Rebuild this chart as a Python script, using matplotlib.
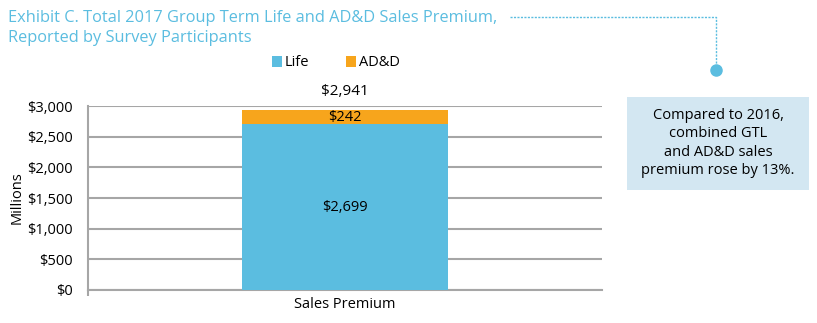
import matplotlib
matplotlib.use("Agg")
import matplotlib.pyplot as plt
from matplotlib.patches import Rectangle

plt.rcParams['font.family'] = ['Open Sans', 'DejaVu Sans']

# data
categories = ["Sales Premium"]
life = [2699]
add = [242]
total = [2941]
yticks = [0, 500, 1000, 1500, 2000, 2500, 3000]

blue = "#5BBDE0"
orange = "#F7A51C"
grid = "#A6A6A6"

fig = plt.figure(figsize=(8.17, 3.23), dpi=100)
ax = fig.add_axes([88 / 817, 1 - 290 / 323, (602 - 88) / 817, (290 - 106) / 323])

x = range(len(categories))
ax.bar(x, life, width=0.4, color=blue, label="Life", zorder=3)
ax.bar(x, add, bottom=life, width=0.4, color=orange, label="AD&D", zorder=3)

for i in x:
    ax.text(i, life[i] / 2, f"${life[i]:,}", ha="center", va="center", fontsize=10.5)
    ax.text(i, life[i] + add[i] / 2, f"${add[i]:,}", ha="center", va="center", fontsize=10.5)
    ax.text(i, total[i] + 300, f"${total[i]:,}", ha="center", va="center", fontsize=11)

ax.set_xlim(-0.5, 0.5)
ax.set_ylim(0, 3000)
ax.set_yticks(yticks)
ax.set_yticklabels([f"${v:,}" for v in yticks], fontsize=10.5)
ax.set_xticks(list(x))
ax.set_xticklabels(categories, fontsize=10.5)
ax.set_xticks([-0.5], minor=True)
ax.tick_params(axis="x", which="major", length=0, pad=5)
ax.tick_params(axis="x", which="minor", length=4, width=1.5, color=grid)
ax.tick_params(axis="y", length=0, pad=11)
ax.set_ylabel("Millions", fontsize=10.5, labelpad=2)
ax.yaxis.grid(True, color=grid, linewidth=1.5, zorder=0)
for s in ["top", "right"]:
    ax.spines[s].set_visible(False)
for s in ["left", "bottom"]:
    ax.spines[s].set_color(grid)
    ax.spines[s].set_linewidth(1.5)

ax.legend(loc="center", bbox_to_anchor=(336 / 817, 1 - 63 / 323), bbox_transform=fig.transFigure,
          ncol=2, frameon=False, fontsize=10.5, handlelength=0.7, handleheight=0.7,
          handletextpad=0.2, columnspacing=2.5)

# title
fig.text(8 / 817, 1 - 18 / 323, "Exhibit C. Total 2017 Group Term Life and AD&D Sales Premium,",
         color=blue, fontsize=11.8, va="center")
fig.text(8 / 817, 1 - 38 / 323, "Reported by Survey Participants",
         color=blue, fontsize=11.8, va="center")

# connector
fig.add_artist(plt.Line2D([510 / 817, 716 / 817, 716 / 817],
                          [1 - 17 / 323, 1 - 17 / 323, 1 - 70 / 323],
                          color=blue, linestyle=(0, (1.5, 1)), linewidth=1,
                          transform=fig.transFigure))
fig.add_artist(plt.Line2D([716 / 817], [1 - 70 / 323], marker="o", markersize=8,
                          color=blue, transform=fig.transFigure))

# callout box
fig.add_artist(Rectangle((627 / 817, 1 - 190 / 323), 182 / 817, 93 / 323,
                         facecolor="#D3E7F2", edgecolor="none", transform=fig.transFigure))
fig.text(718 / 817, 1 - 143 / 323,
         "Compared to 2016,\ncombined GTL\nand AD&D sales\npremium rose by 13%.",
         ha="center", va="center", fontsize=10.5, linespacing=1.3)

fig.savefig("out.png", dpi=100)
